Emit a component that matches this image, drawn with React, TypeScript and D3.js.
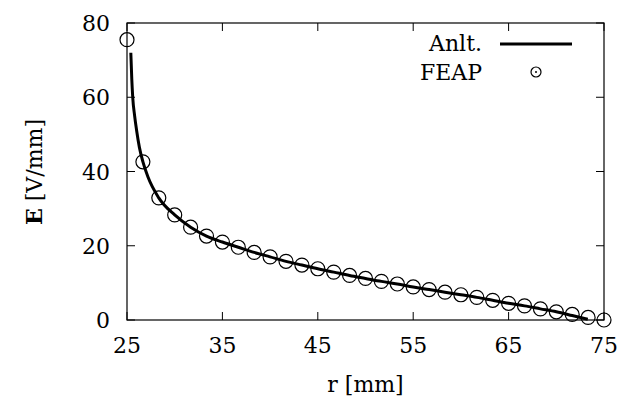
import React from "react";
import * as d3 from "d3";

const feapR: number[] = Array.from({ length: 31 }, (_, i) => 25 + (i * 5) / 3);
const feapE: number[] = [
  75.5, 42.6, 32.9, 28.3, 25.0, 22.6, 21.0, 19.6, 18.2, 17.0, 15.8, 14.8, 13.8,
  12.9, 12.0, 11.2, 10.4, 9.7, 8.9, 8.2, 7.5, 6.8, 6.1, 5.3, 4.5, 3.8, 3.0, 2.2,
  1.5, 0.7, 0.0,
];
const anltR: number[] = [
  25.4, 25.5, 25.6, 25.8, 26.0, 26.3, 26.67, 27.2, 28.33, 30.0, 31.67, 33.33,
  35, 36.67, 38.33, 40, 41.67, 43.33, 45, 46.67, 48.33, 50, 51.67, 53.33, 55,
  56.67, 58.33, 60, 61.67, 63.33, 65, 66.67, 68.33, 70, 71.67, 73.3,
];
const anltE: number[] = [
  72.0, 65.0, 60.0, 55.0, 51.2, 46.5, 42.6, 38.5, 32.9, 28.3, 25.0, 22.6, 21.0,
  19.6, 18.2, 17.0, 15.8, 14.8, 13.8, 12.9, 12.0, 11.2, 10.4, 9.7, 8.9, 8.2,
  7.5, 6.8, 6.1, 5.3, 4.5, 3.8, 3.0, 2.2, 1.2, 0.2,
];
const xTicks: number[] = [25, 35, 45, 55, 65, 75];
const yTicks: number[] = [0, 20, 40, 60, 80];

const W = 623;
const H = 398;
const L = 127;
const R = 604;
const T = 23;
const B = 320;
const FONT = "DejaVu Serif";

export default function App() {
  const x = d3.scaleLinear().domain([25, 75]).range([L, R]);
  const y = d3.scaleLinear().domain([0, 80]).range([B, T]);
  const line = d3
    .line<number>()
    .x((_, i) => x(anltR[i]))
    .y((d) => y(d))
    .curve(d3.curveMonotoneX);
  const tick = 8;
  const ts: React.CSSProperties = { fontFamily: FONT, fontSize: 22 };
  return (
    <svg
      width={W}
      height={H}
      style={{ position: "absolute", left: 0, top: 0, background: "#fff" }}
    >
      <rect x={0} y={0} width={W} height={H} fill="#fff" />
      {xTicks.map((t) => (
        <g key={"xt" + t} stroke="#000" strokeWidth={1}>
          <line x1={x(t)} x2={x(t)} y1={B} y2={B - tick} />
          <line x1={x(t)} x2={x(t)} y1={T} y2={T + tick} />
        </g>
      ))}
      {yTicks.map((t) => (
        <g key={"yt" + t} stroke="#000" strokeWidth={1}>
          <line x1={L} x2={L + tick} y1={y(t)} y2={y(t)} />
          <line x1={R} x2={R - tick} y1={y(t)} y2={y(t)} />
        </g>
      ))}
      <rect
        x={L}
        y={T}
        width={R - L}
        height={B - T}
        fill="none"
        stroke="#000"
        strokeWidth={1.2}
      />
      {xTicks.map((t) => (
        <text key={"xl" + t} x={x(t)} y={353} textAnchor="middle" style={ts}>
          {t}
        </text>
      ))}
      {yTicks.map((t) => (
        <text key={"yl" + t} x={110} y={y(t) + 8} textAnchor="end" style={ts}>
          {t}
        </text>
      ))}
      <text x={(L + R) / 2} y={392} textAnchor="middle" style={ts}>
        r [mm]
      </text>
      <text
        transform={`translate(42,172) rotate(-90)`}
        textAnchor="middle"
        style={ts}
      >
        <tspan fontWeight="bold">E</tspan> [V/mm]
      </text>
      <path d={line(anltE) || ""} fill="none" stroke="#000" strokeWidth={3} />
      {feapE.map((e, i) => (
        <circle
          key={"c" + i}
          cx={x(feapR[i])}
          cy={y(e)}
          r={7}
          fill="none"
          stroke="#000"
          strokeWidth={1.2}
        />
      ))}
      <text x={482} y={51} textAnchor="end" style={ts}>
        Anlt.
      </text>
      <line x1={500} x2={572} y1={44} y2={44} stroke="#000" strokeWidth={3} />
      <text x={482} y={80} textAnchor="end" style={ts}>
        FEAP
      </text>
      <circle cx={536} cy={72} r={5} fill="none" stroke="#000" strokeWidth={1.2} />
      <circle cx={536} cy={72} r={1} fill="#000" />
    </svg>
  );
}
